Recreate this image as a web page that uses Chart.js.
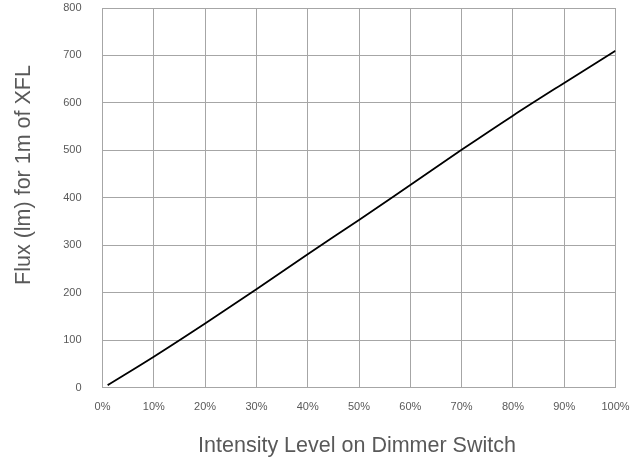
<!DOCTYPE html>
<html>
<head>
<meta charset="utf-8">
<script src="https://cdn.jsdelivr.net/npm/chart.js@4.4.1/dist/chart.umd.min.js"></script>
<style>
  html, body { margin: 0; padding: 0; background: #ffffff; }
  #wrap { width: 642px; height: 464px; position: relative; }
</style>
</head>
<body>
<div id="wrap"><canvas id="c" width="642" height="464"></canvas></div>
<script>
// Data
const intensityPct = [1, 10, 20, 30, 40, 50, 60, 70, 80, 90, 100];
const fluxLm = [5, 65, 135, 207, 281, 353, 427, 501, 573, 642, 710];
const xTitle = 'Intensity Level on Dimmer Switch';
const yTitle = 'Flux (lm) for 1m of XFL';

const FONT = "'Liberation Sans', Arial, sans-serif";
const TEXT_COLOR = '#595959';
const GRID_COLOR = '#a6a6a6';

const axisTitles = {
  id: 'axisTitles',
  afterDraw(chart) {
    const ctx = chart.ctx;
    ctx.save();
    ctx.fillStyle = TEXT_COLOR;
    ctx.font = '21.5px ' + FONT;
    ctx.textAlign = 'center';
    ctx.textBaseline = 'middle';
    ctx.fillText(xTitle, 357, 446);
    ctx.translate(24, 175);
    ctx.rotate(-Math.PI / 2);
    ctx.fillText(yTitle, 0, 0);
    ctx.restore();
  }
};

new Chart(document.getElementById('c'), {
  type: 'line',
  data: {
    datasets: [{
      data: intensityPct.map((x, i) => ({ x: x, y: fluxLm[i] })),
      borderColor: '#000000',
      borderWidth: 1.8,
      pointRadius: 0,
      cubicInterpolationMode: 'monotone',
      fill: false
    }]
  },
  options: {
    responsive: false,
    animation: false,
    devicePixelRatio: 1,
    layout: { padding: { left: 0, top: 8, right: 26.5, bottom: 0 } },
    plugins: { legend: { display: false }, tooltip: { enabled: false } },
    scales: {
      x: {
        type: 'linear',
        min: 0, max: 100,
        ticks: {
          stepSize: 10,
          padding: 0,
          color: TEXT_COLOR,
          font: { family: FONT, size: 11 },
          callback: v => v + '%'
        },
        grid: { color: GRID_COLOR, lineWidth: 1, drawTicks: true, tickLength: 13, tickColor: 'rgba(0,0,0,0)' },
        border: { color: GRID_COLOR, width: 1 },
        afterFit: s => { s.height = 76.5; }
      },
      y: {
        type: 'linear',
        min: 0, max: 800,
        ticks: {
          stepSize: 100,
          padding: 0,
          color: TEXT_COLOR,
          font: { family: FONT, size: 11 }
        },
        grid: { color: GRID_COLOR, lineWidth: 1, drawTicks: true, tickLength: 21, tickColor: 'rgba(0,0,0,0)' },
        border: { color: GRID_COLOR, width: 1 },
        afterFit: s => { s.width = 102.5; }
      }
    }
  },
  plugins: [axisTitles]
});
</script>
</body>
</html>
